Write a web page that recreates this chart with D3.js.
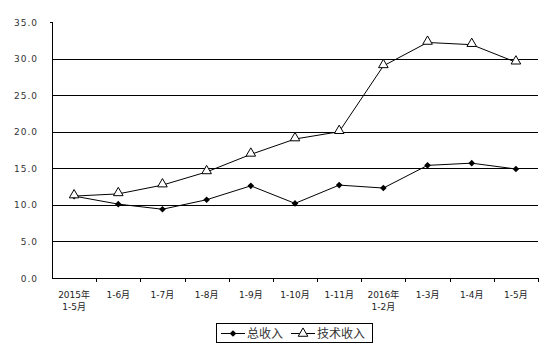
<!DOCTYPE html>
<html>
<head>
<meta charset="utf-8">
<script src="https://cdn.jsdelivr.net/npm/d3@7"></script>
<style>
body { margin: 0; background: #fff; }
text { font-family: "DejaVu Sans", "Noto Sans CJK SC", sans-serif; }
</style>
</head>
<body>
<svg id="chartArea" width="553" height="351"></svg>
<script>
const categories = [["2015年", "1-5月"], ["1-6月"], ["1-7月"], ["1-8月"], ["1-9月"], ["1-10月"], ["1-11月"], ["2016年", "1-2月"], ["1-3月"], ["1-4月"], ["1-5月"]];
const totalIncome = [11.2, 10.1, 9.4, 10.7, 12.6, 10.2, 12.7, 12.3, 15.4, 15.7, 14.9];
const techIncome = [11.2, 11.5, 12.7, 14.5, 16.9, 19.0, 20.0, 29.0, 32.2, 31.9, 29.5];
const yTicks = [0, 5, 10, 15, 20, 25, 30, 35];
const seriesNames = ["总收入", "技术收入"];

const svg = d3.select("#chartArea");
const plotL = 52, plotR = 538, plotT = 22, plotB = 278;

const x = d3.scaleBand().domain(d3.range(categories.length)).range([plotL, plotR]);
const y = d3.scaleLinear().domain([0, 35]).range([plotB, plotT]);

// gridlines
svg.append("g").selectAll("line")
    .data(yTicks.filter(t => t > 0 && t < 35))
    .enter().append("line")
    .attr("x1", plotL).attr("x2", plotR)
    .attr("y1", d => Math.round(y(d)) + 0.5).attr("y2", d => Math.round(y(d)) + 0.5)
    .attr("stroke", "#000").attr("stroke-width", 1);

// y axis
svg.append("line")
    .attr("x1", plotL + 0.5).attr("x2", plotL + 0.5)
    .attr("y1", plotT).attr("y2", plotB + 0.5)
    .attr("stroke", "#000");
svg.append("line")
    .attr("x1", plotL - 2).attr("x2", plotL + 0.5)
    .attr("y1", plotT + 0.5).attr("y2", plotT + 0.5)
    .attr("stroke", "#000");
svg.append("g").selectAll("text")
    .data(yTicks)
    .enter().append("text")
    .attr("x", 38).attr("y", d => y(d) + 3.5)
    .attr("text-anchor", "end")
    .attr("font-size", "9px")
    .attr("letter-spacing", "1px")
    .attr("fill", "#333")
    .text(d => d.toFixed(1));

// x axis
svg.append("line")
    .attr("x1", plotL).attr("x2", plotR + 0.5)
    .attr("y1", Math.round(plotB) + 0.5).attr("y2", Math.round(plotB) + 0.5)
    .attr("stroke", "#000");
svg.append("g").selectAll("line")
    .data(d3.range(1, categories.length + 1))
    .enter().append("line")
    .attr("x1", i => Math.round(plotL + x.step() * i) + 0.5)
    .attr("x2", i => Math.round(plotL + x.step() * i) + 0.5)
    .attr("y1", plotB).attr("y2", plotB + 4)
    .attr("stroke", "#000");

let xl = svg.append("g").selectAll("text")
    .data(categories)
    .enter().append("text")
    .attr("x", (d, i) => x(i) + x.bandwidth() / 2)
    .attr("y", 298)
    .attr("text-anchor", "middle")
    .attr("font-size", "9px")
    .attr("fill", "#222");
xl.selectAll("tspan")
    .data(d => d)
    .enter().append("tspan")
    .attr("x", function () { return this.parentNode.getAttribute("x"); })
    .attr("dy", (d, j) => j === 0 ? 0 : 12)
    .text(d => d);

const cx = i => x(i) + x.bandwidth() / 2;
const line = d3.line()
    .x((d, i) => cx(i))
    .y(d => y(d));

svg.append("path").datum(totalIncome)
    .attr("fill", "none").attr("stroke", "#000").attr("stroke-width", 1)
    .attr("d", line);
svg.append("path").datum(techIncome)
    .attr("fill", "none").attr("stroke", "#000").attr("stroke-width", 1)
    .attr("d", line);

const diamond = d3.symbol().type(d3.symbolDiamond2).size(28);
const triangle = d3.symbol().type(d3.symbolTriangle).size(40);

svg.append("g").selectAll("path")
    .data(totalIncome)
    .enter().append("path")
    .attr("transform", (d, i) => `translate(${cx(i)},${y(d)})`)
    .attr("d", diamond)
    .attr("fill", "#000");

svg.append("g").selectAll("path")
    .data(techIncome)
    .enter().append("path")
    .attr("transform", (d, i) => `translate(${cx(i)},${y(d) - 1})`)
    .attr("d", triangle)
    .attr("fill", "#fff").attr("stroke", "#000");

// legend
const legend = svg.append("g");
legend.append("rect")
    .attr("x", 216.5).attr("y", 323.5).attr("width", 156).attr("height", 19)
    .attr("fill", "#fff").attr("stroke", "#000");
const items = legend.selectAll(".item")
    .data(seriesNames)
    .enter().append("g")
    .attr("transform", (d, i) => `translate(${i === 0 ? 221 : 291},333)`);
items.append("line")
    .attr("x1", 0).attr("x2", 24).attr("y1", 0.5).attr("y2", 0.5)
    .attr("stroke", "#000");
items.append("path")
    .attr("transform", "translate(12,0.5)")
    .attr("d", (d, i) => i === 0 ? diamond() : triangle())
    .attr("fill", (d, i) => i === 0 ? "#000" : "#fff")
    .attr("stroke", (d, i) => i === 0 ? "none" : "#000");
items.append("text")
    .attr("x", 26).attr("y", 5)
    .attr("font-size", "12px")
    .attr("fill", "#333")
    .text(d => d);
</script>
</body>
</html>
